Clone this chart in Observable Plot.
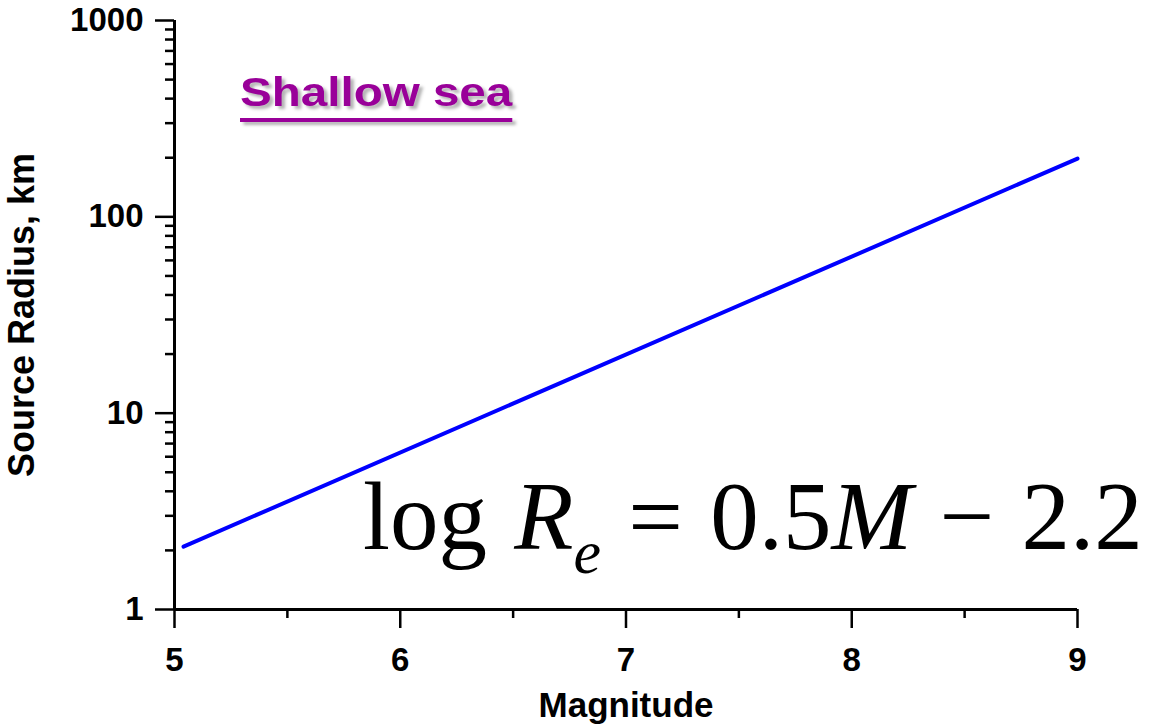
<!DOCTYPE html>
<html>
<head>
<meta charset="utf-8">
<script src="https://cdn.jsdelivr.net/npm/d3@7"></script>
<script src="https://cdn.jsdelivr.net/npm/@observablehq/plot@0.6"></script>
<style>
  html, body { margin: 0; padding: 0; background: #fff; }
  #wrap { position: relative; width: 1157px; height: 725px; overflow: hidden; background: #fff; }
  #chart { position: absolute; left: 0; top: 0; }
  #title {
    position: absolute; left: 240px; top: 72px;
    font: bold 41px/41px "Liberation Sans", Arial, sans-serif;
    color: #990099; white-space: nowrap;
    text-decoration: underline; text-decoration-thickness: 4px; text-underline-offset: 12px;
    text-shadow: 3px 3px 3px rgba(0,0,0,0.3);
    transform: scaleX(1.16); transform-origin: 0 0;
  }
  #eq {
    position: absolute; left: 363px; top: 468px;
    font: 97px/97px "Liberation Serif", "Times New Roman", serif;
    color: #000; white-space: nowrap; word-spacing: 3px;
  }
  #eq i { font-style: italic; }
  #eq sub { font-size: 62px; line-height: 0; vertical-align: baseline; position: relative; top: 24px; font-style: italic; }
</style>
</head>
<body>
<div id="wrap">
  <div id="chart"></div>
  <div id="title">Shallow sea</div>
  <div id="eq">log <i>R</i><sub>e</sub> = 0.5<i>M</i> − 2.2</div>
</div>
<script>
const magnitude = [5.04, 9];
const radiusKm = [2.09, 198];
const xTicks = [5, 6, 7, 8, 9];
const xMinorTicks = [5.5, 6.5, 7.5, 8.5];
const yTicks = [1, 10, 100, 1000];
const yMinorTicks = [2, 3, 4, 5, 6, 7, 8, 9, 20, 30, 40, 50, 60, 70, 80, 90, 200, 300, 400, 500, 600, 700, 800, 900];
const xLabel = ["Magnitude"];
const yLabel = ["Source Radius, km"];

const rows = magnitude.map((m, i) => ({magnitude: m, radius: radiusKm[i]}));

const chart = Plot.plot({
  width: 1157,
  height: 725,
  marginTop: 20,
  marginRight: 80,
  marginBottom: 116,
  marginLeft: 174,
  style: {
    fontFamily: '"Liberation Sans", Arial, sans-serif',
    fontWeight: "bold",
    background: "transparent",
    color: "#000",
    overflow: "visible"
  },
  x: {domain: [5, 9]},
  y: {type: "log", domain: [1, 1000]},
  marks: [
    Plot.axisY(yMinorTicks, {tickSize: 9, tickFormat: () => "", strokeWidth: 2.5, label: null}),
    Plot.axisY(yTicks, {tickSize: 19, tickPadding: 12, tickFormat: d => String(d), fontSize: 33, strokeWidth: 2.5, label: null}),
    Plot.axisX(xMinorTicks, {tickSize: 9, tickFormat: () => "", strokeWidth: 2.5, label: null}),
    Plot.axisX(xTicks, {tickSize: 19, tickPadding: 19, tickFormat: d => String(d), fontSize: 33, strokeWidth: 2.5, label: null}),
    Plot.ruleX([5], {stroke: "#000", strokeWidth: 3}),
    Plot.ruleY([1], {stroke: "#000", strokeWidth: 3}),
    Plot.line(rows, {x: "magnitude", y: "radius", stroke: "#0000ff", strokeWidth: 4}),
    Plot.text(xLabel, {frameAnchor: "bottom", lineAnchor: "bottom", dy: 107, fontSize: 35, fontWeight: "bold", fill: "#000"}),
    Plot.text(yLabel, {frameAnchor: "left", textAnchor: "middle", rotate: -90, dx: -152, fontSize: 36, fontWeight: "bold", fill: "#000"})
  ]
});
document.getElementById("chart").appendChild(chart);
</script>
</body>
</html>
